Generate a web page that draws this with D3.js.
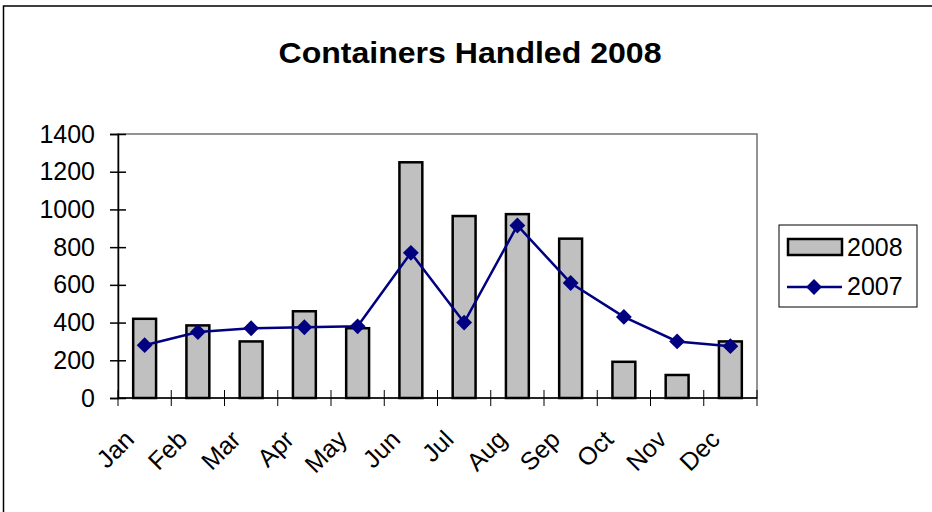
<!DOCTYPE html>
<html>
<head>
<meta charset="utf-8">
<script src="https://cdn.jsdelivr.net/npm/d3@7"></script>
<style>
  body { margin: 0; background: #fff; }
  svg text { font-family: "Liberation Sans", Arial, sans-serif; fill: #000; }
</style>
</head>
<body>
<svg id="chart" width="932" height="512"></svg>
<script>
// data
const months = ['Jan','Feb','Mar','Apr','May','Jun','Jul','Aug','Sep','Oct','Nov','Dec']
const values2008 = [420, 385, 300, 460, 370, 1250, 965, 975, 845, 192, 122, 300]
const values2007 = [280, 350, 370, 375, 380, 770, 400, 915, 610, 430, 300, 275]
const yTicks = [0, 200, 400, 600, 800, 1000, 1200, 1400]
const seriesNames = ['2008', '2007']

const svg = d3.select('#chart')

// chart area border (cut off on the right / bottom like the source)
svg.append('path')
  .attr('d', 'M3.5,520 L3.5,6 L940,6')
  .attr('fill', 'none')
  .attr('stroke', '#000')
  .attr('stroke-width', 1.5)

svg.append('text')
  .attr('x', 470).attr('y', 63)
  .attr('text-anchor', 'middle')
  .attr('font-size', 30).attr('font-weight', 'bold')
  .attr('textLength', 383).attr('lengthAdjust', 'spacingAndGlyphs')
  .text('Containers Handled 2008')

const plot = {left: 118, top: 134, right: 757, bottom: 398}

const x = d3.scaleBand()
  .domain(months)
  .range([plot.left, plot.right])

const y = d3.scaleLinear()
  .domain([0, 1400])
  .range([plot.bottom, plot.top])

// plot area frame
svg.append('rect')
  .attr('x', plot.left).attr('y', plot.top)
  .attr('width', plot.right - plot.left).attr('height', plot.bottom - plot.top)
  .attr('fill', 'none').attr('stroke', '#707070').attr('stroke-width', 1.5)

// bars
const barW = x.bandwidth() * 0.43
svg.append('g').selectAll('rect')
  .data(values2008)
  .enter()
  .append('rect')
  .attr('x', (d, i) => x(months[i]) + x.bandwidth() / 2 - barW / 2)
  .attr('y', d => y(d))
  .attr('width', barW)
  .attr('height', d => y(0) - y(d))
  .attr('fill', '#c0c0c0')
  .attr('stroke', '#000')
  .attr('stroke-width', 2.5)

// y axis
const yAxis = svg.append('g')
  .attr('transform', `translate(${plot.left},0)`)
  .call(d3.axisLeft(y).tickValues(yTicks).tickFormat(d3.format('d')).tickSize(8).tickPadding(15))
yAxis.select('.domain').attr('stroke', '#000').attr('stroke-width', 1.5)
yAxis.selectAll('.tick line').attr('x2', 8).attr('x1', -8).attr('stroke', '#000').attr('stroke-width', 1.5)
yAxis.selectAll('.tick text')
  .attr('font-size', 25)
  .attr('font-family', '"Liberation Sans", Arial, sans-serif')

// x axis: ticks sit on category boundaries
const xb = svg.append('g').attr('transform', `translate(0,${plot.bottom})`)
xb.append('line')
  .attr('x1', plot.left).attr('x2', plot.right)
  .attr('stroke', '#000').attr('stroke-width', 1.5)
const bounds = months.map(m => x(m)).concat([plot.right])
xb.selectAll('line.tk')
  .data(bounds)
  .enter()
  .append('line')
  .attr('class', 'tk')
  .attr('x1', d => d).attr('x2', d => d)
  .attr('y1', -8).attr('y2', 8)
  .attr('stroke', '#000').attr('stroke-width', 1)

xb.selectAll('text')
  .data(months)
  .enter()
  .append('text')
  .attr('font-size', 25)
  .attr('text-anchor', 'end')
  .attr('transform', d => `translate(${x(d) + x.bandwidth() / 2 - 9},${43}) rotate(-45)`)
  .text(d => d)

// 2007 line
const line = d3.line()
  .x((d, i) => x(months[i]) + x.bandwidth() / 2)
  .y(d => y(d))

svg.append('path')
  .attr('d', line(values2007))
  .attr('fill', 'none')
  .attr('stroke', '#000080')
  .attr('stroke-width', 2.5)

const diamond = d3.symbol().type(d3.symbolDiamond2).size(160)
svg.append('g').selectAll('path')
  .data(values2007)
  .enter()
  .append('path')
  .attr('d', diamond)
  .attr('transform', (d, i) => `translate(${x(months[i]) + x.bandwidth() / 2},${y(d)})`)
  .attr('fill', '#000080')

// legend
const lg = svg.append('g')
lg.append('rect')
  .attr('x', 779).attr('y', 225).attr('width', 138).attr('height', 82)
  .attr('fill', '#fff').attr('stroke', '#000').attr('stroke-width', 1)
lg.append('rect')
  .attr('x', 788).attr('y', 239).attr('width', 54).attr('height', 16)
  .attr('fill', '#c0c0c0').attr('stroke', '#000').attr('stroke-width', 2.5)
lg.append('line')
  .attr('x1', 787).attr('x2', 842).attr('y1', 287).attr('y2', 287)
  .attr('stroke', '#000080').attr('stroke-width', 2.5)
lg.append('path')
  .attr('d', diamond)
  .attr('transform', 'translate(814,287)')
  .attr('fill', '#000080')
lg.selectAll('text.lbl')
  .data(seriesNames)
  .enter()
  .append('text')
  .attr('class', 'lbl')
  .attr('x', 847)
  .attr('y', (d, i) => 256 + i * 39)
  .attr('font-size', 25)
  .text(d => d)
</script>
</body>
</html>
